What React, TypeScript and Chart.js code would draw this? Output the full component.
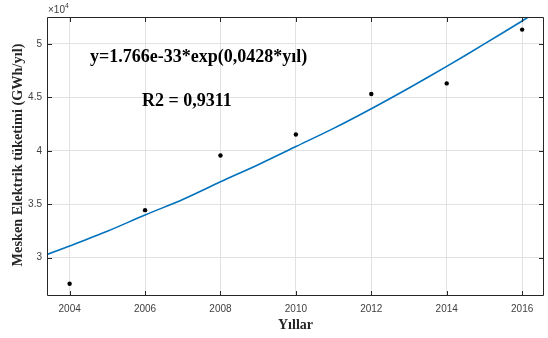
import React, { useEffect, useRef } from "react";
import { Chart, registerables } from "chart.js";

Chart.register(...registerables);

const years = [2004, 2006, 2008, 2010, 2012, 2014, 2016];
const consumption = [27570, 34450, 39570, 41530, 45320, 46310, 51340];

const fitYears = [2003.4, 2004, 2005, 2006, 2007, 2008, 2009, 2010, 2011, 2012, 2013, 2014, 2015, 2016, 2016.6];
const fitValues = [30310, 31100, 32480, 34000, 35450, 37100, 38700, 40400, 42100, 43940, 45880, 47900, 50000, 52150, 53500];

const xTicks = [2004, 2006, 2008, 2010, 2012, 2014, 2016];
const yTicks = [30000, 35000, 40000, 45000, 50000];

const equationText = "y=1.766e-33*exp(0,0428*yıl)";
const r2Text = "R2 = 0,9311";
const xTitle = "Yıllar";
const yTitle = "Mesken Elektrik tüketimi (GWh/yıl)";

const SANS = "'Liberation Sans', Arial, Helvetica, sans-serif";
const SERIF = "'Liberation Serif', 'Times New Roman', serif";

const framePlugin = {
  id: "matlabFrame",
  afterDraw(chart: any) {
    const { ctx, chartArea, scales } = chart;
    const { left, right, top, bottom } = chartArea;
    const xs = scales.x;
    const ys = scales.y;
    ctx.save();
    ctx.strokeStyle = "#262626";
    ctx.lineWidth = 1;
    ctx.beginPath();
    ctx.rect(left + 0.5, top + 0.5, right - left - 1, bottom - top - 1);
    ctx.stroke();
    const tl = 5;
    ctx.beginPath();
    xTicks.forEach((v) => {
      const px = Math.round(xs.getPixelForValue(v)) + 0.5;
      ctx.moveTo(px, bottom);
      ctx.lineTo(px, bottom - tl);
      ctx.moveTo(px, top);
      ctx.lineTo(px, top + tl);
    });
    yTicks.forEach((v) => {
      const py = Math.round(ys.getPixelForValue(v)) + 0.5;
      ctx.moveTo(left, py);
      ctx.lineTo(left + tl, py);
      ctx.moveTo(right, py);
      ctx.lineTo(right - tl, py);
    });
    ctx.stroke();

    // exponent label
    ctx.fillStyle = "#404040";
    ctx.textBaseline = "alphabetic";
    ctx.textAlign = "left";
    ctx.font = `10px ${SANS}`;
    ctx.fillText("×10", left + 1, top - 4);
    const w = ctx.measureText("×10").width;
    ctx.font = `7px ${SANS}`;
    ctx.fillText("4", left + 1 + w, top - 9);

    // annotations
    ctx.fillStyle = "#000";
    ctx.font = `bold 18px ${SERIF}`;
    ctx.textBaseline = "middle";
    ctx.fillText(equationText, 90, 57);
    ctx.fillText(r2Text, 142, 101);

    // axis titles
    ctx.fillStyle = "#262626";
    ctx.textAlign = "center";
    ctx.font = `bold 14px ${SERIF}`;
    ctx.fillText(xTitle, (left + right) / 2, 325);
    ctx.save();
    ctx.translate(18, 155);
    ctx.rotate(-Math.PI / 2);
    ctx.font = `bold 14.3px ${SERIF}`;
    ctx.fillText(yTitle, 0, 0);
    ctx.restore();
    ctx.restore();
  },
};

export default function App() {
  const ref = useRef<HTMLCanvasElement>(null);
  useEffect(() => {
    const chart = new Chart(ref.current!, {
      type: "scatter",
      data: {
        datasets: [
          {
            label: "fit",
            data: fitYears.map((x, i) => ({ x, y: fitValues[i] })),
            showLine: true,
            borderColor: "#0072BD",
            borderWidth: 1.6,
            pointRadius: 0,
            fill: false,
            clip: 0,
            tension: 0.3,
            order: 2,
          } as any,
          {
            label: "data",
            data: years.map((x, i) => ({ x, y: consumption[i] })),
            backgroundColor: "#000",
            borderColor: "#000",
            pointRadius: 2.2,
            pointBorderWidth: 0,
            order: 1,
          },
        ],
      },
      options: {
        animation: false,
        responsive: false,
        maintainAspectRatio: false,
        layout: { padding: { left: 0, right: 3, top: 17, bottom: 0 } },
        plugins: { legend: { display: false }, tooltip: { enabled: false } },
        scales: {
          x: {
            type: "linear",
            min: 2003.4,
            max: 2016.58,
            afterBuildTicks: (s: any) => {
              s.ticks = xTicks.map((v) => ({ value: v }));
            },
            afterFit: (s: any) => {
              s.height = 42;
            },
            border: { display: false },
            grid: { color: "#e2e2e2", lineWidth: 1, drawTicks: false },
            ticks: {
              padding: 7,
              color: "#404040",
              font: { family: SANS, size: 10 },
              maxRotation: 0,
              callback: (v: any) => String(v),
            },
          },
          y: {
            type: "linear",
            min: 26420,
            max: 52520,
            afterBuildTicks: (s: any) => {
              s.ticks = yTicks.map((v) => ({ value: v }));
            },
            afterFit: (s: any) => {
              s.width = 47;
            },
            border: { display: false },
            grid: { color: "#e2e2e2", lineWidth: 1, drawTicks: false },
            ticks: {
              padding: 5,
              color: "#404040",
              font: { family: SANS, size: 10 },
              callback: (v: any) => String(v / 10000),
            },
          },
        },
      },
      plugins: [framePlugin],
    });
    return () => chart.destroy();
  }, []);
  return (
    <div style={{ position: "absolute", left: 0, top: 0, width: 548, height: 338, background: "#fff" }}>
      <canvas ref={ref} width={548} height={338} style={{ display: "block", width: 548, height: 338 }} />
    </div>
  );
}
